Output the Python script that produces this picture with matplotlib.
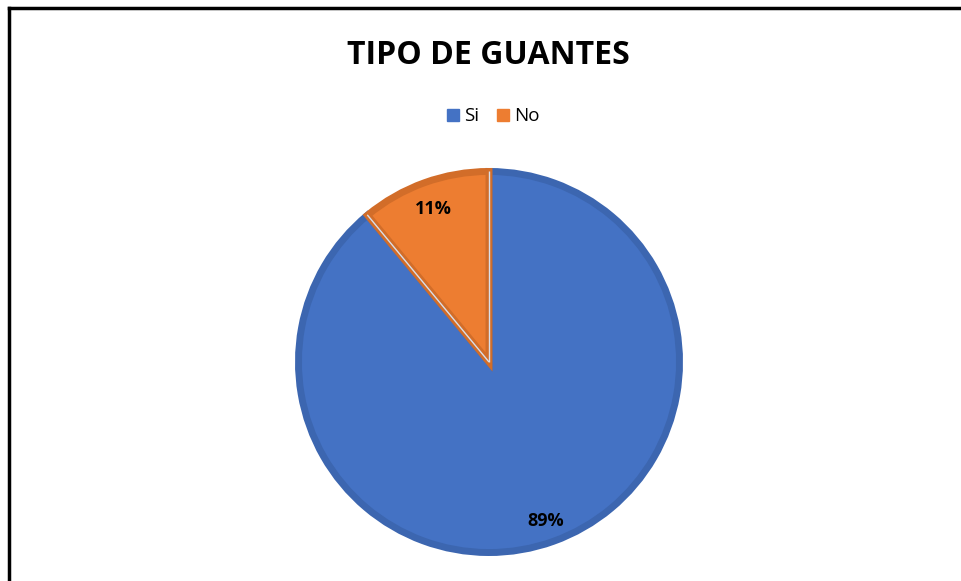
import numpy as np
import matplotlib.pyplot as plt
from matplotlib.lines import Line2D

labels = ["Si", "No"]
values = [89, 11]
colors = ["#4472C4", "#ED7D31"]
edge_colors = ["#3C66B0", "#D26D29"]
title = "TIPO DE GUANTES"

plt.rcParams["font.family"] = ["Open Sans", "DejaVu Sans"]

fig = plt.figure(figsize=(9.61, 5.81), dpi=100)
ax = fig.add_axes([0, 0, 1, 1])

cx, cy, r = 489, 219, 194
border = 5.0  # pt
wedges, texts, autotexts = ax.pie(
    values,
    colors=colors,
    startangle=90,
    counterclock=False,
    center=(cx, cy),
    radius=r - border * 100 / 72 / 2,
    autopct="%1.0f%%",
    pctdistance=0.855,
    frame=True,
    wedgeprops=dict(linewidth=border),
    textprops=dict(fontsize=13, fontweight="bold", color="black"),
)
for w, ec in zip(wedges, edge_colors):
    w.set_edgecolor(ec)
    w.set_joinstyle("miter")

# the big slice's label sits a little further out
x, y = autotexts[0].get_position()
k = 0.885 / 0.855
autotexts[0].set_position((cx + (x - cx) * k, cy + (y - cy) * k))

# light separator between slices
for ang in (wedges[1].theta1, wedges[1].theta2):
    t = np.deg2rad(ang)
    ax.plot([cx, cx + (r - 3) * np.cos(t)], [cy, cy + (r - 3) * np.sin(t)],
            color="#d9dfea", lw=1.0, zorder=5, solid_capstyle="butt")

ax.set_xlim(0, 961)
ax.set_ylim(0, 581)
ax.set_aspect("equal")
ax.axis("off")

fig.text(0.508, 0.904, title, ha="center", va="center",
         fontsize=23, fontweight="bold", color="black")

handles = [Line2D([], [], marker="s", linestyle="none", markersize=9,
                  markerfacecolor=c, markeredgecolor=c) for c in colors]
fig.legend(handles, labels, loc="center", bbox_to_anchor=(0.513, 0.80),
           ncol=2, frameon=False, fontsize=13.5, handlelength=0.7,
           handletextpad=0.25, columnspacing=0.9)

# chart border (top and left visible)
fig.add_artist(Line2D([0.009, 1.0], [0.986, 0.986], color="black", lw=2.5,
                      transform=fig.transFigure))
fig.add_artist(Line2D([0.009, 0.009], [0.0, 0.986], color="black", lw=2.5,
                      transform=fig.transFigure))

fig.savefig("out.png", dpi=100)
